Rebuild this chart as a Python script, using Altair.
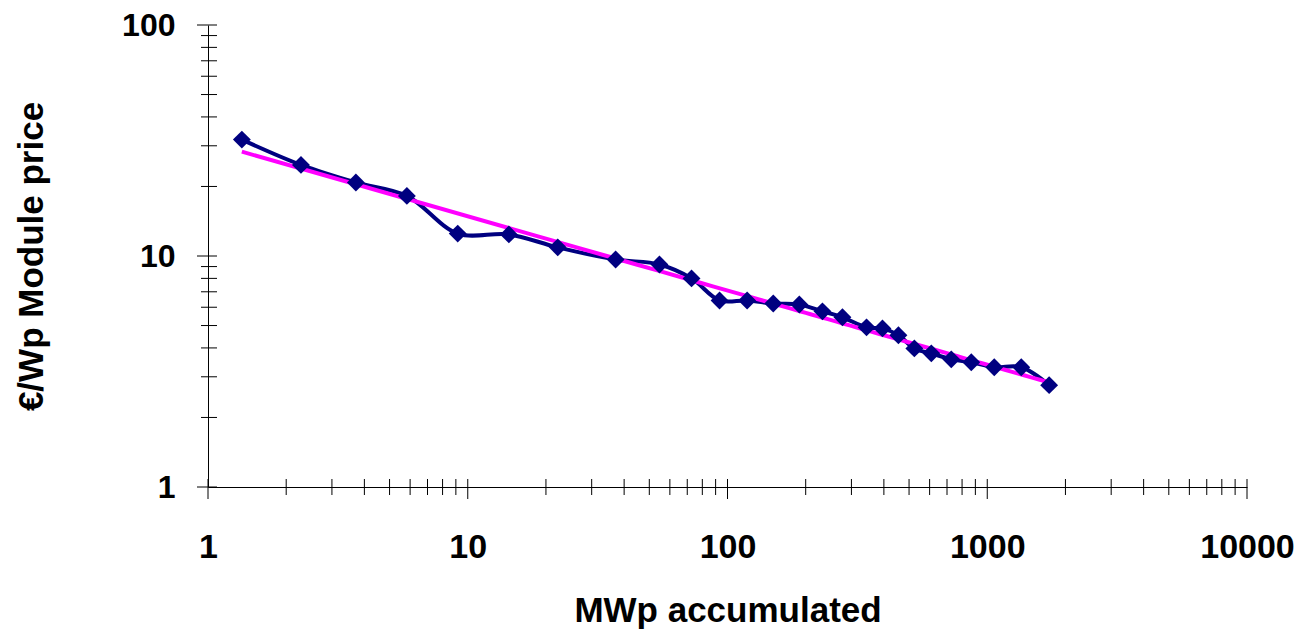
import altair as alt
import pandas as pd

# ---- data ----
mwp_accumulated = [1.35, 2.28, 3.71, 5.83, 9.15, 14.4, 22.2, 37.1, 54.7, 72.7, 93.2, 119,
                   150, 189, 232, 277, 343, 395, 455, 524, 609, 727, 868, 1064, 1352, 1731]
module_price = [31.9, 24.8, 20.8, 18.2, 12.5, 12.4, 10.9, 9.66, 9.19, 8.0, 6.42, 6.42,
                6.23, 6.17, 5.76, 5.43, 4.91, 4.86, 4.54, 3.98, 3.79, 3.57, 3.47, 3.30, 3.30, 2.76]

x_major_ticks = [1, 10, 100, 1000, 10000]
x_minor_ticks = [m * d for d in [1, 10, 100, 1000] for m in range(2, 10)]
y_major_ticks = [1, 10, 100]
y_minor_ticks = [m * d for d in [1, 10] for m in range(2, 10)]

df = pd.DataFrame({"mwp": mwp_accumulated, "price": module_price})

W, H = 1039, 462
FONT = "Liberation Sans"
NAVY = "#000080"
MAGENTA = "#FF00FF"

xscale = alt.Scale(type="log", domain=[1, 10000], nice=False)
yscale = alt.Scale(type="log", domain=[1, 100], nice=False)

xaxis = alt.Axis(
    title="MWp accumulated", values=x_major_ticks, format="d", grid=False,
    ticks=False, tickSize=0, labelFlush=False, labelOverlap=False,
    domainColor="black", domainWidth=1,
    labelFont=FONT, labelFontSize=34, labelFontWeight="bold", labelColor="black",
    labelBaseline="alphabetic", labelPadding=70,
    titleFont=FONT, titleFontSize=35, titleFontWeight="bold", titleColor="black",
    titleBaseline="alphabetic", titleY=134,
)
yaxis = alt.Axis(
    title="€/Wp Module price", values=y_major_ticks, format="d", grid=False,
    ticks=False, tickSize=0, labelFlush=False, labelOverlap=False,
    domainColor="black", domainWidth=1,
    labelFont=FONT, labelFontSize=32, labelFontWeight="bold", labelColor="black",
    labelBaseline="middle", labelPadding=33,
    titleFont=FONT, titleFontSize=35, titleFontWeight="bold", titleColor="black",
    titleAngle=270, titleBaseline="alphabetic", titleX=-166, titleY=231, titleAlign="center",
)

base = alt.Chart(df)

series_line = base.mark_line(color=NAVY, strokeWidth=4, interpolate="catmull-rom").encode(
    x=alt.X("mwp:Q", scale=xscale, axis=xaxis),
    y=alt.Y("price:Q", scale=yscale, axis=yaxis),
)

trend = base.transform_regression("mwp", "price", method="pow").mark_line(
    color=MAGENTA, strokeWidth=4
).encode(x="mwp:Q", y="price:Q")

points = base.mark_point(shape="diamond", filled=True, color=NAVY, size=320, opacity=1).encode(
    x="mwp:Q", y="price:Q"
)

xmaj = alt.Chart(pd.DataFrame({"v": x_major_ticks})).mark_rule(color="black", strokeWidth=1).encode(
    x="v:Q", y=alt.value(H - 8), y2=alt.value(H + 12))
xmin = alt.Chart(pd.DataFrame({"v": x_minor_ticks})).mark_rule(color="black", strokeWidth=1).encode(
    x="v:Q", y=alt.value(H - 8), y2=alt.value(H + 8))
ymaj = alt.Chart(pd.DataFrame({"v": y_major_ticks})).mark_rule(color="black", strokeWidth=1).encode(
    y="v:Q", x=alt.value(-11), x2=alt.value(9))
ymin = alt.Chart(pd.DataFrame({"v": y_minor_ticks})).mark_rule(color="black", strokeWidth=1).encode(
    y="v:Q", x=alt.value(-7), x2=alt.value(9))

chart = alt.layer(series_line, trend, points, xmaj, xmin, ymaj, ymin).properties(
    width=W, height=H,
    autosize=alt.AutoSizeParams(type="none"),
    padding={"left": 208, "top": 25, "right": 52, "bottom": 143},
    background="white",
).configure_view(stroke=None)

chart.save("out.html", embed_options={"renderer": "svg", "actions": False})
